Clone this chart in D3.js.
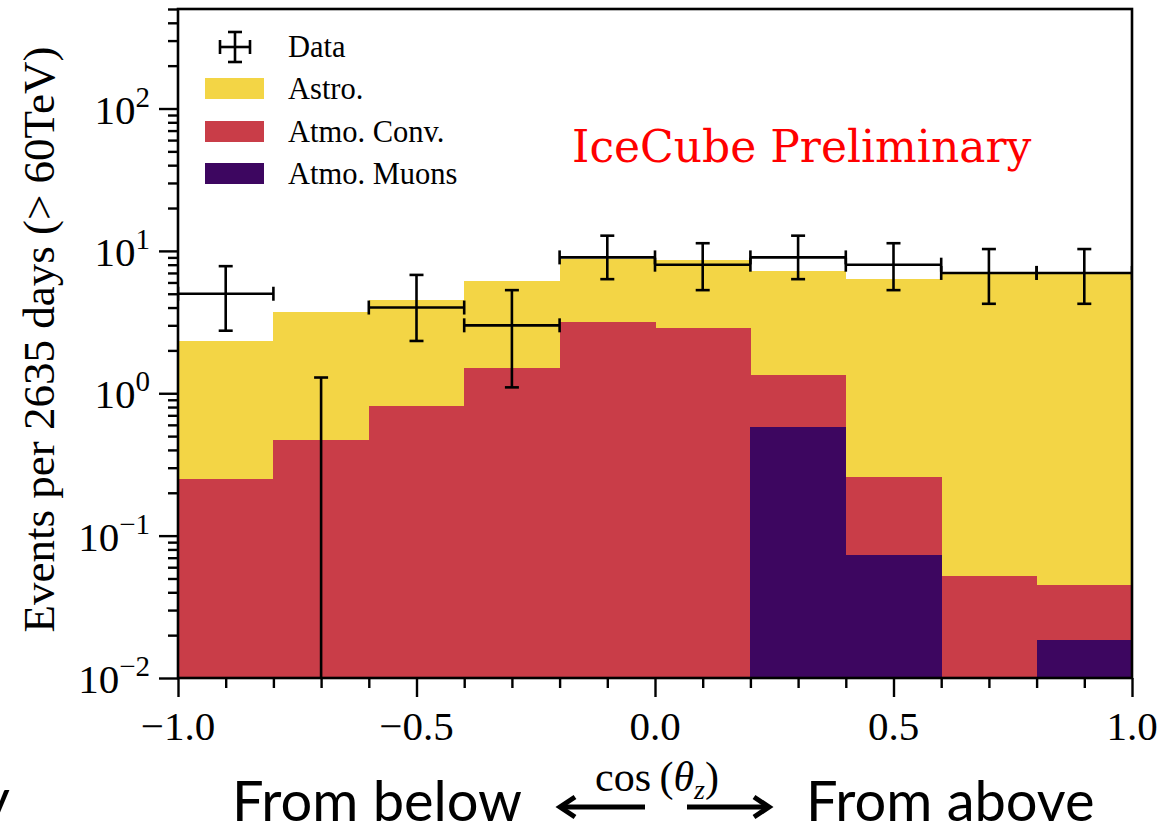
<!DOCTYPE html>
<html><head><meta charset="utf-8">
<script src="https://cdn.jsdelivr.net/npm/d3@7"></script>
<style>body{margin:0;background:#fff} svg{display:block}</style>
</head><body>
<svg id="c" width="1169" height="833"></svg>
<script>
// ---- data ----
const binEdges = [-1.0,-0.8,-0.6,-0.4,-0.2,0.0,0.2,0.4,0.6,0.8,1.0];
// stacked levels (top of each coloured layer), events per bin
const astroStack = [2.32,3.71,4.50,6.12,8.70,8.60,7.20,6.33,6.94,6.94];
const convStack  = [0.249,0.467,0.81,1.50,3.15,2.86,1.34,0.257,0.0518,0.0448];
const muonStack  = [0,0,0,0,0,0,0.577,0.0727,0,0.0184];
const dataCounts = [5,0,4,3,9,8,9,8,7,7];
const dataLow    = [2.75,0,2.33,1.10,6.33,5.30,6.33,5.30,4.25,4.25];
const dataHigh   = [7.81,1.29,6.78,5.30,12.79,11.32,12.79,11.32,10.30,10.30];
const xTickValues = [-1.0,-0.5,0.0,0.5,1.0];
const xTickLabels = ["\u22121.0","\u22120.5","0.0","0.5","1.0"];
const yTickValues = [1e-2,1e-1,1,10,100];
const yTickExponents = ["\u22122","\u22121","0","1","2"];
const legendLabels = ["Data","Astro.","Atmo. Conv.","Atmo. Muons"];
const layerColors = ["#f3d545","#c93d48","#3d0660"];

// ---- layout ----
const L=178,R=1132,T=9,B=678;
const svg = d3.select("#c");
const x = d3.scaleLinear().domain([-1,1]).range([L,R]);
const y = d3.scaleLog().domain([0.01,500]).range([B,T]);
const serif = "'Liberation Serif','Times New Roman',serif";

const bins = d3.range(dataCounts.length).map(i=>({i,x0:binEdges[i],x1:binEdges[i+1]}));

svg.append("clipPath").attr("id","clip").append("rect")
  .attr("x",L).attr("y",T).attr("width",R-L).attr("height",B-T);
const plot = svg.append("g").attr("clip-path","url(#clip)");

[astroStack,convStack,muonStack].forEach((vals,k)=>{
  plot.append("g").attr("shape-rendering","crispEdges")
    .selectAll("rect").data(bins.filter(b=>vals[b.i]>0)).join("rect")
    .attr("x",b=>x(b.x0)).attr("width",b=>x(b.x1)-x(b.x0)+0.6)
    .attr("y",b=>y(vals[b.i])).attr("height",b=>B-y(vals[b.i]))
    .attr("fill",layerColors[k]);
});

// data error bars
const eb = svg.append("g").attr("clip-path","url(#clip)")
  .attr("stroke","#000").attr("stroke-width",2.6).attr("fill","none");
const cap = 7;
bins.forEach(b=>{
  const cx = x((b.x0+b.x1)/2);
  const v=dataCounts[b.i], lo=dataLow[b.i], hi=dataHigh[b.i];
  const yLo = lo>0 ? y(lo) : B+10, yHi = y(hi);
  eb.append("line").attr("x1",cx).attr("x2",cx).attr("y1",yLo).attr("y2",yHi);
  eb.append("line").attr("x1",cx-cap).attr("x2",cx+cap).attr("y1",yHi).attr("y2",yHi);
  if(lo>0) eb.append("line").attr("x1",cx-cap).attr("x2",cx+cap).attr("y1",yLo).attr("y2",yLo);
  if(v>0){
    const yv=y(v), xa=x(b.x0), xb=x(b.x1);
    eb.append("line").attr("x1",xa).attr("x2",xb).attr("y1",yv).attr("y2",yv);
    eb.append("line").attr("x1",xa).attr("x2",xa).attr("y1",yv-cap).attr("y2",yv+cap);
    eb.append("line").attr("x1",xb).attr("x2",xb).attr("y1",yv-cap).attr("y2",yv+cap);
  }
});

// axes
const isMajorX = d=>Math.abs(d*2-Math.round(d*2))<1e-6;
const xMinor = x.ticks(20).filter(d=>!isMajorX(d));
const yMinor = y.ticks().filter(d=>Math.abs(Math.log10(d)-Math.round(Math.log10(d)))>1e-6);

function styleAxis(g){ g.select(".domain").remove(); g.selectAll(".tick line").attr("stroke","#000").attr("stroke-width",2.4); g.selectAll(".tick text").remove(); }
svg.append("g").attr("transform",`translate(0,${B})`).call(d3.axisBottom(x).tickValues(xTickValues).tickSize(19)).call(styleAxis);
svg.append("g").attr("transform",`translate(0,${B})`).call(d3.axisBottom(x).tickValues(xMinor).tickSize(10)).call(styleAxis);
svg.append("g").attr("transform",`translate(${L},0)`).call(d3.axisLeft(y).tickValues(yTickValues).tickSize(19)).call(styleAxis);
svg.append("g").attr("transform",`translate(${L},0)`).call(d3.axisLeft(y).tickValues(yMinor).tickSize(10)).call(styleAxis);

svg.append("rect").attr("x",L).attr("y",T).attr("width",R-L).attr("height",B-T)
  .attr("fill","none").attr("stroke","#000").attr("stroke-width",2.6);

// tick labels
svg.append("g").selectAll("text").data(xTickValues).join("text")
  .attr("x",d=>x(d)).attr("y",740).attr("text-anchor","middle")
  .attr("font-family",serif).attr("font-size",41).text((d,i)=>xTickLabels[i]);
const yl = svg.append("g").selectAll("text").data(yTickValues).join("text")
  .attr("x",150).attr("y",d=>y(d)+15).attr("text-anchor","end")
  .attr("font-family",serif).attr("font-size",41);
yl.append("tspan").text("10");
yl.append("tspan").attr("dy",-17).attr("font-size",29).text((d,i)=>yTickExponents[i]);

// axis labels
svg.append("text").attr("transform",`translate(54,${(T+B)/2 - 4}) rotate(-90)`)
  .attr("text-anchor","middle").attr("font-family",serif).attr("font-size",45)
  .text("Events per 2635 days (> 60TeV)");
const xl = svg.append("text").attr("x",657).attr("y",791).attr("text-anchor","middle")
  .attr("font-family",serif).attr("font-size",42);
xl.append("tspan").text("cos\u2009(");
xl.append("tspan").attr("font-style","italic").text("\u03b8");
xl.append("tspan").attr("font-style","italic").attr("font-size",28).attr("dy",8).text("z");
xl.append("tspan").attr("dy",-8).text(")");

// legend
const lg = svg.append("g");
const lgE = lg.append("g").attr("stroke","#000").attr("stroke-width",2.6);
lgE.append("line").attr("x1",220).attr("x2",250).attr("y1",47).attr("y2",47);
lgE.append("line").attr("x1",220).attr("x2",220).attr("y1",40).attr("y2",54);
lgE.append("line").attr("x1",250).attr("x2",250).attr("y1",40).attr("y2",54);
lgE.append("line").attr("x1",235).attr("x2",235).attr("y1",32).attr("y2",62);
lgE.append("line").attr("x1",228).attr("x2",242).attr("y1",32).attr("y2",32);
lgE.append("line").attr("x1",228).attr("x2",242).attr("y1",62).attr("y2",62);
const patchY=[78,121,163];
layerColors.forEach((c,k)=>lg.append("rect").attr("x",205).attr("y",patchY[k]).attr("width",59).attr("height",21).attr("fill",c));
const lblY=[57,99,142,184];
lg.selectAll("text").data(legendLabels).join("text").attr("x",288).attr("y",(d,i)=>lblY[i])
  .attr("font-family",serif).attr("font-size",30.5).text(d=>d);

// annotation
svg.append("text").attr("x",572).attr("y",162).attr("fill","#ff0000")
  .attr("font-family","'DejaVu Serif',serif").attr("font-size",44).text("IceCube Preliminary");

// slide text below the figure
const sans = "Lato,'Open Sans',sans-serif";
svg.append("text").attr("x",232).attr("y",821).attr("font-family",sans).attr("font-size",56).text("From below");
svg.append("text").attr("x",806).attr("y",821).attr("font-family",sans).attr("font-size",56).text("From above");
svg.append("text").attr("x",-19).attr("y",819).attr("font-family",sans).attr("font-size",56).text("y");
const ar = svg.append("g").attr("stroke","#000").attr("stroke-width",5).attr("fill","none").attr("stroke-linecap","butt");
ar.append("line").attr("x1",645).attr("x2",562).attr("y1",807).attr("y2",807);
ar.append("path").attr("d","M575,797 L560,807 L575,817");
ar.append("line").attr("x1",687).attr("x2",765).attr("y1",807).attr("y2",807);
ar.append("path").attr("d","M754,797 L769,807 L754,817");
</script>
</body></html>
